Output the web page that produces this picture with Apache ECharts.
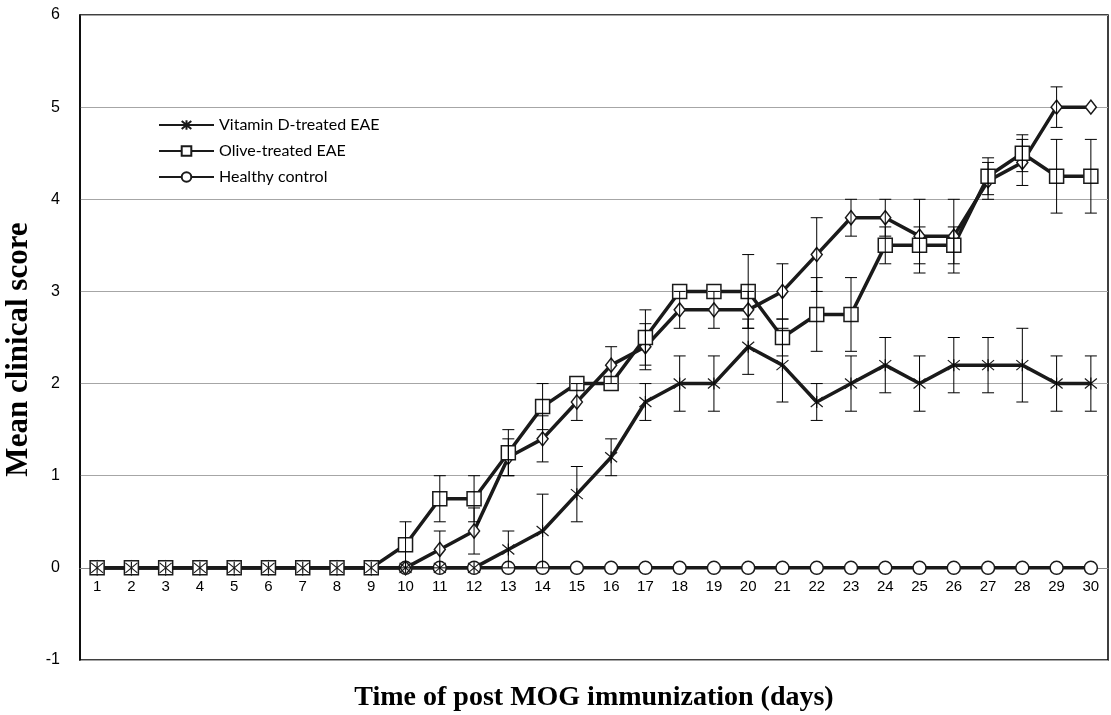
<!DOCTYPE html>
<html>
<head>
<meta charset="utf-8">
<script src="https://cdn.jsdelivr.net/npm/echarts@6/dist/echarts.min.js"></script>
<style>html,body{margin:0;padding:0;background:#fff}#c{width:1111px;height:715px}</style>
</head>
<body>
<div id="c"></div>
<script>
var days = ['1','2','3','4','5','6','7','8','9','10','11','12','13','14','15','16','17','18','19','20','21','22','23','24','25','26','27','28','29','30'];
var vitaminD    = [0,0,0,0,0,0,0,0,0,0,0,0,0.2,0.4,0.8,1.2,1.8,2.0,2.0,2.4,2.2,1.8,2.0,2.2,2.0,2.2,2.2,2.2,2.0,2.0];
var vitaminDErr = [0,0,0,0,0,0,0,0,0,0,0,0,0.2,0.4,0.3,0.2,0.2,0.3,0.3,0.3,0.4,0.2,0.3,0.3,0.3,0.3,0.3,0.4,0.3,0.3];
var olive       = [0,0,0,0,0,0,0,0,0,0.25,0.75,0.75,1.25,1.75,2.0,2.0,2.5,3.0,3.0,3.0,2.5,2.75,2.75,3.5,3.5,3.5,4.25,4.5,4.25,4.25];
var oliveErr    = [0,0,0,0,0,0,0,0,0,0.25,0.25,0.25,0.25,0.25,0,0,0.3,0,0,0.4,0.2,0.4,0.4,0.2,0.2,0.2,0.2,0.2,0.4,0.4];
var eaeControl    = [0,0,0,0,0,0,0,0,0,0,0.2,0.4,1.2,1.4,1.8,2.2,2.4,2.8,2.8,2.8,3.0,3.4,3.8,3.8,3.6,3.6,4.2,4.4,5.0,5.0];
var eaeControlErr = [0,0,0,0,0,0,0,0,0,0,0.2,0.25,0.2,0.25,0.2,0.2,0.25,0.2,0.2,0.2,0.3,0.4,0.2,0.2,0.4,0.4,0.2,0.25,0.22,0];
var healthy = [0,0,0,0,0,0,0,0,0,0,0,0,0,0,0,0,0,0,0,0,0,0,0,0,0,0,0,0,0,0];
var legendNames = ['Vitamin D-treated EAE','Olive-treated EAE','Healthy control'];

var INK = '#1a1a1a';
function errData(vals, errs){
  var out = [];
  for (var i=0;i<vals.length;i++){ if (errs[i] > 0) out.push([i, vals[i]-errs[i], vals[i]+errs[i]]); }
  return out;
}
function errRender(params, api){
  var x = api.value(0), lo = api.value(1), hi = api.value(2);
  var a = api.coord([x, lo]), b = api.coord([x, hi]);
  var w = 6;
  var st = {stroke:'#000', lineWidth:1};
  return {type:'group', children:[
    {type:'line', shape:{x1:a[0],y1:a[1],x2:b[0],y2:b[1]}, style:st},
    {type:'line', shape:{x1:a[0]-w,y1:a[1],x2:a[0]+w,y2:a[1]}, style:st},
    {type:'line', shape:{x1:b[0]-w,y1:b[1],x2:b[0]+w,y2:b[1]}, style:st}
  ]};
}
function errSeries(vals, errs){
  return {type:'custom', renderItem:errRender, data:errData(vals, errs), encode:{x:0,y:[1,2]}, z:4, silent:true};
}
var lineBase = {type:'line', lineStyle:{color:INK, width:3.5}, z:3, animation:false};
var openItem = {color:'#fff', borderColor:INK, borderWidth:1.5};

var chart = echarts.init(document.getElementById('c'), null, {renderer:'canvas'});
chart.setOption({
  animation:false,
  backgroundColor:'#fff',
  grid:{left:80, right:3, top:15, bottom:55, show:true, borderColor:'#000', borderWidth:1.5, containLabel:false, outerBoundsMode:'none'},
  legend:{
    data: legendNames, orient:'vertical', left:153, top:112, itemGap:10,
    itemWidth:55, itemHeight:12,
    textStyle:{fontFamily:'Lato', fontSize:16, color:'#000'}
  },
  xAxis:{
    type:'category', data:days, boundaryGap:true, position:'bottom', offset:-92,
    axisLine:{show:true, onZero:false, lineStyle:{color:'#888', width:1}},
    axisTick:{show:false},
    axisLabel:{color:'#000', fontFamily:'Liberation Sans', fontSize:15, margin:11},
    splitLine:{show:false},
    name:'Time of post MOG immunization (days)', nameLocation:'middle', nameGap:116,
    nameTextStyle:{fontFamily:'Liberation Serif', fontWeight:'bold', fontSize:28, color:'#000'}
  },
  yAxis:{
    type:'value', min:-1, max:6, interval:1, position:'left',
    axisLine:{show:true, onZero:false, lineStyle:{color:'#000', width:1.5}}, axisTick:{show:false},
    axisLabel:{color:'#000', fontFamily:'Liberation Sans', fontSize:16, margin:20},
    splitLine:{lineStyle:{color:'#a6a6a6', width:1}},
    name:'Mean clinical score', nameLocation:'middle', nameGap:23,
    nameTextStyle:{fontFamily:'Liberation Serif', fontWeight:'bold', fontSize:31, color:'#000', padding:[0,24,0,0]}
  },
  series:[
    Object.assign({}, lineBase, {name:'Healthy control', data:healthy, symbol:'circle', symbolSize:13, itemStyle:openItem}),
    Object.assign({}, lineBase, {name:'EAE control', data:eaeControl, symbol:'diamond', symbolSize:[11,14], itemStyle:openItem}),
    Object.assign({}, lineBase, {name:'Olive-treated EAE', data:olive, symbol:'rect', symbolSize:14, itemStyle:openItem}),
    Object.assign({}, lineBase, {name:'Vitamin D-treated EAE', data:vitaminD,
      symbol:'path://M0,0L10,10M10,0L0,10M5,-1L5,11', symbolSize:12,
      itemStyle:{color:INK, borderColor:INK, borderWidth:1.2}}),
    errSeries(eaeControl, eaeControlErr),
    errSeries(olive, oliveErr),
    errSeries(vitaminD, vitaminDErr)
  ]
});
</script>
</body>
</html>
